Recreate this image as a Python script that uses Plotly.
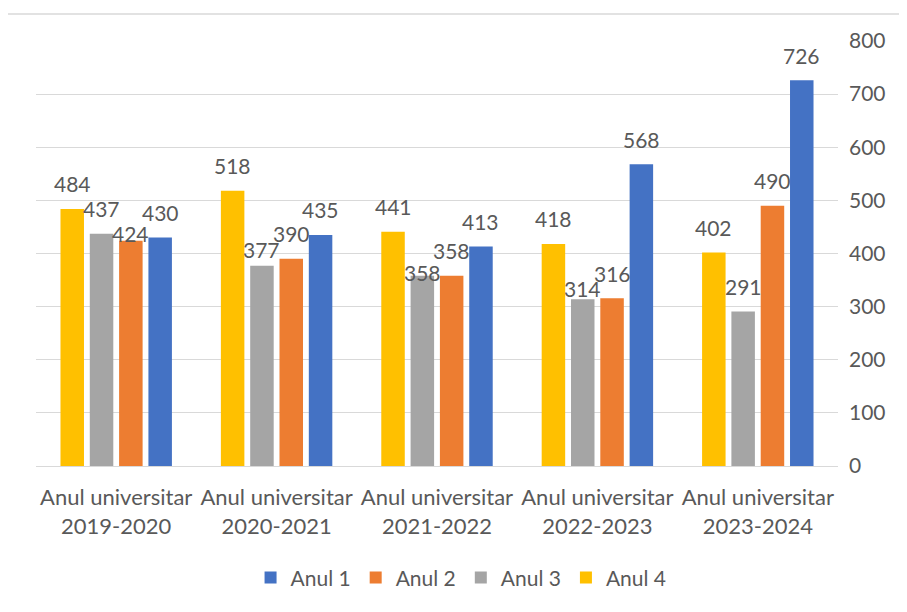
import plotly.graph_objects as go

categories = ["Anul universitar<br>2019-2020", "Anul universitar<br>2020-2021",
              "Anul universitar<br>2021-2022", "Anul universitar<br>2022-2023",
              "Anul universitar<br>2023-2024"]
anul1 = [430, 435, 413, 568, 726]
anul2 = [424, 390, 358, 316, 490]
anul3 = [437, 377, 358, 314, 291]
anul4 = [484, 518, 441, 418, 402]
y_ticks = [0, 100, 200, 300, 400, 500, 600, 700, 800]

series = [("Anul 4", anul4, "#FFC000"), ("Anul 3", anul3, "#A5A5A5"),
          ("Anul 2", anul2, "#ED7D31"), ("Anul 1", anul1, "#4472C4")]

# styling: vertical lift (px) of each data label's centre above its bar top;
# a few labels sit lower to avoid their neighbours, as in the original
LABEL_LIFT = 25
label_lift_override = {("Anul 2", 0): 7, ("Anul 3", 1): 16,
                       ("Anul 3", 2): 3, ("Anul 3", 3): 11}

# page body has an 8px margin, so the figure is placed at (8, 8)
W, H = 899, 604
ML, MR, MT, MB = 28, 69, 33, 146
BARGAP, GROUPGAP = 0.269, 0.198
FONT = "Lato, 'Open Sans', sans-serif"
GREY = "#595959"

fig = go.Figure()
for name, vals, col in series:
    fig.add_trace(go.Bar(name=name, x=categories, y=vals, marker_color=col,
                         marker_line_width=0))

plot_w = W - ML - MR
cat_w = plot_w / len(categories)
slot = cat_w * (1 - BARGAP) / len(series)
annotations = []
for i, (name, vals, col) in enumerate(series):
    shift = (i - (len(series) - 1) / 2) * slot
    for j, (c, v) in enumerate(zip(categories, vals)):
        lift = label_lift_override.get((name, j), LABEL_LIFT)
        annotations.append(dict(x=c, y=v, text=str(v), showarrow=False,
                                xanchor="center", yanchor="middle",
                                xshift=shift, yshift=lift,
                                font=dict(family=FONT, size=21, color=GREY)))

fig.update_layout(
    width=W, height=H,
    margin=dict(l=ML, r=MR, t=MT, b=MB, autoexpand=False),
    paper_bgcolor="white", plot_bgcolor="white",
    barmode="group", bargap=BARGAP, bargroupgap=GROUPGAP,
    font=dict(family=FONT, size=21, color=GREY),
    showlegend=True,
    legend=dict(orientation="h", traceorder="reversed", x=0.53, xanchor="center",
                y=-0.215, yanchor="top", font=dict(size=21, color=GREY),
                itemwidth=30),
    annotations=annotations,
    shapes=[dict(type="line", xref="paper", yref="paper",
                 x0=-0.04, x1=1.1, y0=1.0635, y1=1.0635,
                 line=dict(color="#D9D9D9", width=1.5))],
)
fig.update_xaxes(showgrid=False, showline=True, linecolor="#D9D9D9", linewidth=1,
                 ticks="", tickfont=dict(size=22, color=GREY), tickangle=0,
                 ticklabelstandoff=12)
fig.update_yaxes(side="right", range=[0, 800], tickvals=y_ticks,
                 showgrid=True, gridcolor="#D9D9D9", gridwidth=1,
                 zeroline=False, showline=False, ticks="",
                 tickfont=dict(size=21, color=GREY), ticklabelstandoff=10)

fig.write_html("out.html")
